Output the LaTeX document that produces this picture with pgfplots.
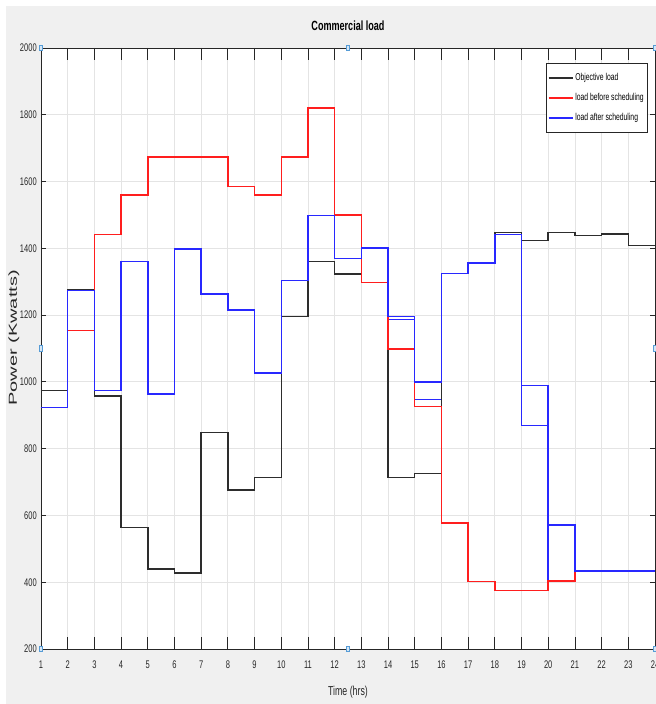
\documentclass[border=0pt]{standalone}
\usepackage{fontspec}
\setmainfont{Liberation Sans}[FakeStretch=0.68]
\newfontfamily\widefont{Liberation Sans}
\usepackage{graphicx}
\usepackage{pgfplots}
\pgfplotsset{compat=1.18}
\usepackage{pgfplotstable}

\definecolor{figbg}{RGB}{240,240,240}
\definecolor{axisgray}{RGB}{38,38,38}
\definecolor{gridgray}{RGB}{228,228,228}
\definecolor{objline}{RGB}{45,45,45}
\definecolor{beforeline}{RGB}{255,30,30}
\definecolor{afterline}{RGB}{40,40,255}
\definecolor{handle}{RGB}{86,156,214}

% hourly values, stairs: value of hour h held from h to h+1
\pgfplotstableread{
h   p
1   975
2   1276
3   958
4   564
5   439
6   427
7   848
8   676
9   713
10  1196
11  1360
12  1323
13  1401
14  714
15  725
16  1324
17  1356
18  1448
19  1424
20  1448
21  1439
22  1443
23  1408
24  1408
}\objective

\pgfplotstableread{
h   p
1   924
2   1154
3   1442
4   1560
5   1673
6   1673
7   1673
8   1585
9   1560
10  1673
11  1820
12  1500
13  1298
14  1098
15  926
16  577
17  402
18  376
19  376
20  403
21  433
22  433
23  433
24  433
}\before

\pgfplotstableread{
h   p
1   924
2   1274
3   975
4   1360
5   964
6   1398
7   1263
8   1215
9   1026
10  1304
11  1498
12  1370
13  1401
14  1196
15  1000
16  1324
17  1356
18  1442
19  989
20  571
21  433
22  433
23  433
24  433
}\after

% second (overlapping) blue trace, differs only in a few hours
\pgfplotstableread{
h   p
1   924
2   1274
3   975
4   1360
5   964
6   1398
7   1263
8   1215
9   1026
10  1304
11  1498
12  1370
13  1401
14  1187
15  948
16  1324
17  1356
18  1442
19  870
20  403
21  433
22  433
23  433
24  433
}\afterb

\begin{document}
\begin{tikzpicture}
\useasboundingbox (-30.75pt,-41.25pt) rectangle (461.25pt,486.75pt);
\fill[figbg] (-26.25pt,-41.25pt) rectangle (461.25pt,482.25pt);
\begin{axis}[
    at={(0,0)}, anchor=south west,
    scale only axis,
    width=460.5pt, height=450.75pt,
    xmin=1, xmax=24,
    ymin=200, ymax=2000,
    xtick={1,...,24},
    ytick={200,400,...,2000},
    axis background/.style={fill=white},
    grid=major,
    major grid style={gridgray, line width=0.6pt},
    axis line style={axisgray, line width=0.6pt},
    tick style={axisgray, line width=0.6pt},
    tick align=inside,
    xtick style={/pgfplots/major tick length=9pt},
    ytick style={/pgfplots/major tick length=4pt},
    /pgf/number format/assume math mode=true,
    /pgf/number format/1000 sep={},
    ticklabel style={font=\fontsize{8.3}{10}\selectfont, text=axisgray},
    xticklabel style={anchor=north, inner sep=0pt, yshift=-9pt},
    yticklabel style={anchor=east, inner sep=0pt, xshift=-3pt},
    title={\bfseries Commercial load},
    title style={at={(axis description cs:0.5,1.0233)}, anchor=center,
        font=\fontsize{10}{12}\selectfont},
    xlabel={Time (hrs)},
    xlabel style={at={(axis description cs:0.5,-0.0715)}, anchor=center,
        font=\fontsize{9.7}{11}\selectfont, text=axisgray},
    ylabel={\widefont\fontsize{15}{17}\selectfont\scalebox{1}[0.58]{Power (Kwatts)}},
    ylabel style={at={(axis description cs:-0.044,0.5175)}, anchor=center,
        text=axisgray},
    legend style={at={(0.9886,0.975)}, anchor=north east,
        draw=axisgray, fill=white,
        font=\fontsize{7.5}{9}\selectfont,
        inner xsep=1.5pt, inner ysep=3.5pt, row sep=0pt,
        nodes={inner xsep=1.5pt, inner ysep=0pt, text height=9.5pt, text depth=5.5pt},
        cells={anchor=west}},
    legend image code/.code={\draw[#1, line width=0.9pt] (0pt,0pt) -- (18pt,0pt);},
    clip mode=individual,
]
\addplot[const plot, no marks, color=afterline, line width=1.1pt, forget plot]
    table[x=h, y=p] {\afterb};
\addplot[const plot, no marks, color=objline, line width=1.1pt]
    table[x=h, y=p] {\objective};
\addlegendentry{Objective load}
\addplot[const plot, no marks, color=beforeline, line width=1.1pt]
    table[x=h, y=p] {\before};
\addlegendentry{load before scheduling}
\addplot[const plot, no marks, color=afterline, line width=1.1pt]
    table[x=h, y=p] {\after};
\addlegendentry{load after scheduling}

% figure selection handles
\addplot[only marks, mark=square*, mark size=2pt, forget plot,
    mark options={draw=handle, fill=handle!25, line width=0.6pt, xscale=0.7}]
    coordinates {(1,2000) (12.5,2000) (24,2000) (1,1100) (24,1100)
                 (1,200) (12.5,200) (24,200)};
\end{axis}
\end{tikzpicture}
\end{document}
